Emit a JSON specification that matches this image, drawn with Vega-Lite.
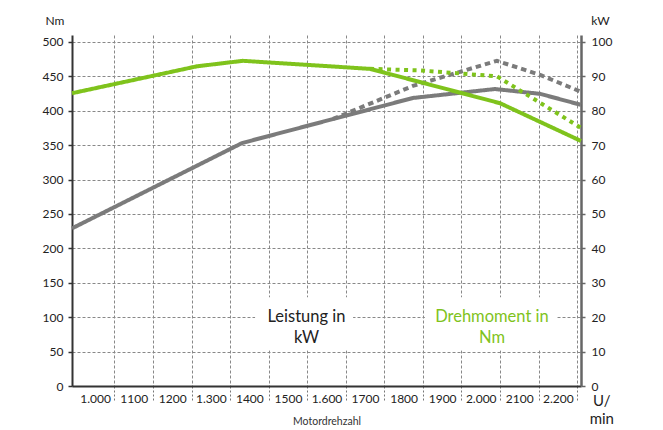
{
  "$schema": "https://vega.github.io/schema/vega-lite/v6.json",
  "width": 509,
  "height": 351,
  "autosize": {"type": "none"},
  "padding": {"left": 72, "top": 35, "right": 82, "bottom": 44},
  "background": "white",
  "config": {
    "font": "Lato",
    "view": {"stroke": null},
    "axis": {"labelFont": "Lato", "titleFont": "Lato", "labelColor": "#222", "titleColor": "#222", "titleFontWeight": "normal"}
  },
  "datasets": {
    "torque": [
      {"rpm": 940, "Nm": 425.4, "curve": "solid"},
      {"rpm": 1264, "Nm": 464.5, "curve": "solid"},
      {"rpm": 1383, "Nm": 472.5, "curve": "solid"},
      {"rpm": 1713, "Nm": 460.8, "curve": "solid"},
      {"rpm": 2050, "Nm": 410.9, "curve": "solid"},
      {"rpm": 2260, "Nm": 356, "curve": "solid"},
      {"rpm": 1713, "Nm": 460.8, "curve": "dotted"},
      {"rpm": 1842, "Nm": 458.6, "curve": "dotted"},
      {"rpm": 2042, "Nm": 450, "curve": "dotted"},
      {"rpm": 2260, "Nm": 375, "curve": "dotted"}
    ],
    "power": [
      {"rpm": 940, "kW": 45.8, "curve": "solid"},
      {"rpm": 1381, "kW": 70.6, "curve": "solid"},
      {"rpm": 1824, "kW": 83.7, "curve": "solid"},
      {"rpm": 2037, "kW": 86.3, "curve": "solid"},
      {"rpm": 2154, "kW": 84.9, "curve": "solid"},
      {"rpm": 2260, "kW": 81.7, "curve": "solid"},
      {"rpm": 1617, "kW": 77.6, "curve": "dotted"},
      {"rpm": 1824, "kW": 87.2, "curve": "dotted"},
      {"rpm": 2042, "kW": 94.5, "curve": "dotted"},
      {"rpm": 2154, "kW": 90.4, "curve": "dotted"},
      {"rpm": 2260, "kW": 85.5, "curve": "dotted"}
    ],
    "boxes": [
      {"rpm": 1415, "rpm2": 1669, "Nm": 52, "Nm2": 129},
      {"rpm": 1855, "rpm2": 2198, "Nm": 52, "Nm2": 129}
    ],
    "labels": [
      {"rpm": 1548, "Nm": 100.3, "text": "Leistung in\nkW", "kind": "Leistung"},
      {"rpm": 2029, "Nm": 100.3, "text": "Drehmoment in\nNm", "kind": "Drehmoment"}
    ],
    "unit": [
      {"rpm": 2314, "Nm": -21.5, "text": "U/\nmin"}
    ]
  },
  "layer": [
    {
      "data": {"name": "power"},
      "mark": {"type": "line", "color": "#7b7b7b", "strokeWidth": 4, "strokeCap": "butt"},
      "encoding": {
        "x": {"field": "rpm", "type": "quantitative", "scale": {"domain": [940, 2260], "nice": false, "zero": false}},
        "y": {
          "field": "kW", "type": "quantitative",
          "scale": {"domain": [0, 102], "nice": false, "zero": true},
          "axis": {
            "orient": "right", "values": [0, 10, 20, 30, 40, 50, 60, 70, 80, 90, 100],
            "grid": false, "title": "kW", "titleAngle": 0, "titleAlign": "center", "titleBaseline": "alphabetic",
            "titleX": 19, "titleY": -11, "titleFontSize": 12, "labelOverlap": false,
            "domainColor": "#666", "domainWidth": 2.5, "tickColor": "#666", "tickSize": 4, "tickWidth": 1.5,
            "labelPadding": 6, "labelFontSize": 12
          }
        },
        "detail": {"field": "curve"},
        "strokeDash": {"field": "curve", "type": "nominal", "scale": {"domain": ["solid", "dotted"], "range": [[1, 0], [5.5, 4]]}, "legend": null}
      }
    },
    {
      "encoding": {
        "x": {
          "field": "rpm", "type": "quantitative",
          "scale": {"domain": [940, 2260], "nice": false, "zero": false},
          "axis": {
            "values": [1050, 1150, 1250, 1350, 1450, 1550, 1650, 1750, 1850, 1950, 2050, 2150, 2250],
            "labelExpr": "['1.000','1100','1200','1.300','1400','1500','1.600','1700','1800','1900','2.000','2100','2.200'][round((datum.value-1050)/100)]",
            "labelOffset": -19.3, "labelFlush": false, "labelOverlap": false, "labelBound": false,
            "labelFontSize": 12, "labelPadding": -3.5, "labelBaseline": "middle",
            "grid": true, "gridColor": "#888", "gridDash": [3, 2], "gridWidth": 1,
            "tickSize": 16, "tickColor": "#777", "tickDash": [2, 2], "tickWidth": 1,
            "domainColor": "#333", "domainWidth": 2,
            "title": "Motordrehzahl", "titleFontSize": 10.5, "titleY": 38, "titleBaseline": "alphabetic", "titleColor": "#333"
          }
        },
        "y": {
          "field": "Nm", "type": "quantitative",
          "scale": {"domain": [0, 510], "nice": false, "zero": true},
          "axis": {
            "orient": "left", "values": [0, 50, 100, 150, 200, 250, 300, 350, 400, 450, 500],
            "grid": true, "gridColor": "#888", "gridDash": [3, 2], "gridWidth": 1, "labelOverlap": false,
            "title": "Nm", "titleAngle": 0, "titleAlign": "center", "titleBaseline": "alphabetic",
            "titleX": -17.5, "titleY": -11, "titleFontSize": 12,
            "domainColor": "#333", "domainWidth": 2, "tickColor": "#333", "tickSize": 4, "tickWidth": 1.5,
            "labelPadding": 5, "labelFontSize": 12
          }
        }
      },
      "layer": [
        {
          "data": {"name": "torque"},
          "mark": {"type": "line", "color": "#7fc31c", "strokeWidth": 4, "strokeCap": "butt"},
          "encoding": {
            "detail": {"field": "curve"},
            "strokeDash": {"field": "curve", "type": "nominal", "scale": {"domain": ["solid", "dotted"], "range": [[1, 0], [4, 4.5]]}, "legend": null}
          }
        },
        {
          "data": {"name": "boxes"},
          "mark": {"type": "rect", "fill": "white"},
          "encoding": {
            "x2": {"field": "rpm2"},
            "y2": {"field": "Nm2"}
          }
        },
        {
          "data": {"name": "labels"},
          "mark": {"type": "text", "lineBreak": "\n", "fontSize": 16.5, "lineHeight": 21, "align": "center", "baseline": "middle", "font": "Lato"},
          "encoding": {
            "text": {"field": "text"},
            "color": {"field": "kind", "type": "nominal", "scale": {"domain": ["Leistung", "Drehmoment"], "range": ["#222222", "#7fc31c"]}, "legend": null}
          }
        },
        {
          "data": {"name": "unit"},
          "mark": {"type": "text", "lineBreak": "\n", "fontSize": 15, "lineHeight": 18.5, "align": "center", "baseline": "middle", "font": "Lato", "color": "#222"},
          "encoding": {
            "text": {"field": "text"}
          }
        }
      ]
    }
  ],
  "resolve": {"scale": {"y": "independent", "strokeDash": "independent"}}
}
